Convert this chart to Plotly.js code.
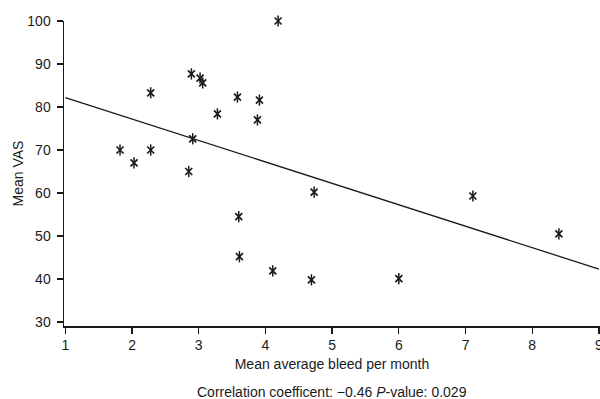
<!DOCTYPE html>
<html>
<head>
<meta charset="utf-8">
<script src="https://cdn.plot.ly/plotly-3.0.1.min.js"></script>
<style>html,body{margin:0;padding:0;background:#fff;}#chart{width:600px;height:399px;}</style>
</head>
<body>
<div id="chart"></div>
<script>
// Mean average bleed per month (x) vs Mean VAS (y)
var bleedPerMonth = [4.19, 2.89, 3.02, 3.06, 2.28, 3.58, 3.91, 3.28, 3.88, 2.91, 1.82, 2.28, 2.03, 2.85, 4.73, 7.11, 3.60, 8.40, 3.61, 4.11, 4.69, 6.00];
var meanVAS      = [100.0, 87.7, 86.7, 85.6, 83.3, 82.3, 81.6, 78.4, 77.0, 72.6, 70.0, 70.0, 67.0, 65.0, 60.2, 59.3, 54.5, 50.5, 45.2, 41.9, 39.8, 40.1];
// Regression line end points
var fitX = [1, 9];
var fitY = [82.2, 42.3];
var xTicks = [1, 2, 3, 4, 5, 6, 7, 8, 9];
var yTicks = [30, 40, 50, 60, 70, 80, 90, 100];

var font = 'Liberation Sans, Arial, Helvetica, sans-serif';
var ink = '#1a1a1a';

var traces = [
  {x: fitX, y: fitY, mode: 'lines', type: 'scatter', line: {color: ink, width: 1.3}, hoverinfo: 'skip', cliponaxis: false},
  {x: bleedPerMonth, y: meanVAS, mode: 'markers', type: 'scatter', cliponaxis: false,
   marker: {symbol: 'x-thin-open', size: 7, color: ink, line: {color: ink, width: 1.7}}},
  {x: bleedPerMonth, y: meanVAS, mode: 'markers', type: 'scatter', cliponaxis: false,
   marker: {symbol: 'line-ns-open', size: 8, color: ink, line: {color: ink, width: 1.5}}}
];

var layout = {
  width: 600, height: 399,
  margin: {l: 64, r: 0, t: 21, b: 73},
  paper_bgcolor: '#fff', plot_bgcolor: '#fff',
  showlegend: false,
  font: {family: font, size: 14, color: ink},
  xaxis: {
    range: [0.98, 9.016], tickvals: xTicks, ticktext: xTicks.map(String),
    showgrid: false, zeroline: false, showline: true, linecolor: ink, linewidth: 1.5,
    ticks: 'outside', ticklen: 6, tickwidth: 1.3, tickcolor: ink,
    ticklabeloverflow: 'allow',
    tickfont: {family: font, size: 14, color: ink},
    title: {text: 'Mean average bleed per month', font: {family: font, size: 14, color: ink}, standoff: 7},
    automargin: false
  },
  yaxis: {
    range: [29.07, 100], tickvals: yTicks, ticktext: yTicks.map(String),
    showgrid: false, zeroline: false, showline: true, linecolor: ink, linewidth: 1.5,
    ticks: 'outside', ticklen: 6, tickwidth: 1.3, tickcolor: ink,
    ticklabelstandoff: 3,
    tickfont: {family: font, size: 14, color: ink},
    title: {text: 'Mean VAS', font: {family: font, size: 14, color: ink}, standoff: 0},
    automargin: false
  },
  annotations: [{
    xref: 'paper', yref: 'paper', x: 0.5, y: 0, yshift: -66, xanchor: 'center', yanchor: 'middle',
    showarrow: false,
    text: 'Correlation coefficent: \u22120.46 <i>P</i>-value: 0.029',
    font: {family: font, size: 14, color: ink}
  }]
};

Plotly.newPlot('chart', traces, layout, {displayModeBar: false, staticPlot: true});
</script>
</body>
</html>
